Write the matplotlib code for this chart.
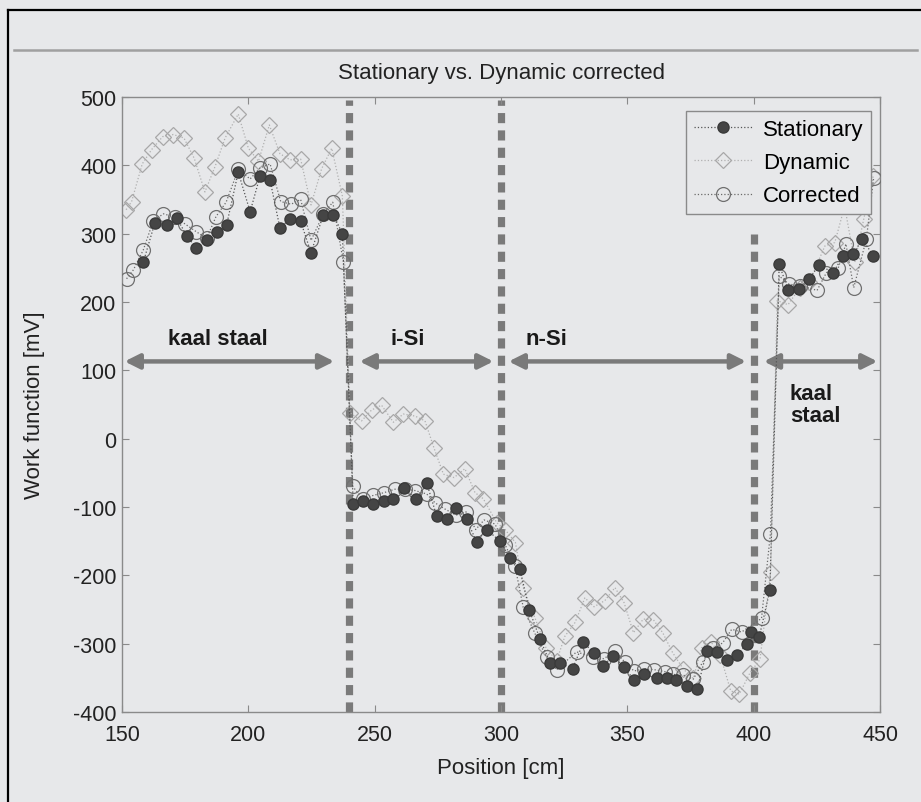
"""Stationary vs. dynamic (corrected) work function scan across the
kaal staal / i-Si / n-Si / kaal staal strip.

Output: out.png (921 x 803 px)
"""
import matplotlib
matplotlib.use("Agg")
import matplotlib.pyplot as plt
from matplotlib.lines import Line2D

matplotlib.rcParams.update({
    "font.family": ["Liberation Sans", "DejaVu Sans"],
    "font.size": 15,
    "axes.unicode_minus": False,
})

BG = "#e7e8ea"

# ── data ──────────────────────────────────────────────────────
stat_x = [158.4, 163.0, 167.7, 171.6, 175.6, 179.3, 183.5, 187.5, 191.4, 196.0,
          200.7, 204.6, 208.6, 212.5, 216.5, 220.7, 224.8, 229.7, 233.6, 237.2,
          241.5, 245.5, 249.5, 253.7, 257.4, 261.6, 266.2, 270.6, 274.5, 278.5,
          282.2, 286.4, 290.3, 294.3, 299.6, 303.5, 307.5, 311.2, 315.4, 319.4,
          323.3, 328.3, 332.6, 336.8, 340.5, 344.4, 348.7, 352.6, 356.7, 361.6,
          365.5, 369.2, 373.5, 377.7, 381.4, 385.3, 389.3, 393.3, 397.5, 398.8,
          402.2, 406.4, 410.1, 413.6, 418.0, 422.0, 425.9, 431.5, 435.4, 439.4,
          443.0, 447.3]
stat_y = [258, 316, 313, 323, 297, 279, 290, 302, 313, 390,
          332, 384, 378, 308, 322, 318, 272, 328, 328, 300,
          -96, -91, -96, -91, -89, -72, -88, -65, -113, -118,
          -102, -118, -151, -133, -150, -174, -191, -251, -293, -328,
          -328, -337, -298, -314, -332, -318, -334, -353, -345, -351,
          -351, -353, -362, -366, -311, -312, -324, -317, -300, -283,
          -290, -222, 255, 218, 219, 234, 254, 243, 268, 270,
          292, 268]

dyn_x = [151.6, 153.8, 158.0, 161.7, 166.1, 170.3, 174.5, 178.6, 182.8, 186.8,
         190.8, 196.0, 200.0, 204.0, 208.3, 212.5, 216.5, 220.7, 224.8, 229.0,
         233.0, 237.2, 240.2, 244.8, 248.8, 252.7, 257.4, 261.3, 266.0, 269.9,
         273.5, 277.2, 281.4, 285.7, 289.7, 293.0, 298.3, 301.6, 305.7, 308.8,
         313.4, 317.8, 322.0, 325.3, 329.3, 333.2, 336.8, 341.1, 345.1, 348.7,
         352.4, 356.3, 360.3, 364.0, 367.9, 372.1, 376.1, 379.4, 383.0, 386.7,
         390.9, 394.3, 398.5, 402.5, 406.7, 409.3, 413.6, 418.3, 422.0, 428.2,
         432.1, 436.0, 440.0, 443.6, 447.3]
dyn_y = [335, 347, 402, 423, 442, 445, 440, 410, 361, 398,
         440, 475, 425, 406, 459, 417, 408, 409, 342, 395,
         425, 355, 38, 26, 42, 49, 24, 36, 33, 26,
         -14, -52, -57, -44, -79, -88, -123, -133, -152, -218,
         -262, -306, -325, -289, -269, -233, -246, -237, -218, -240,
         -284, -264, -265, -284, -313, -337, -351, -306, -297, -316,
         -369, -374, -343, -323, -195, 202, 196, 221, 229, 282,
         287, 340, 258, 322, 384]

corr_x = [151.8, 154.5, 158.4, 162.4, 166.4, 171.0, 175.0, 179.3, 183.5, 187.2,
          191.2, 196.0, 200.7, 204.6, 208.6, 212.8, 216.9, 220.7, 224.8, 229.7,
          233.4, 237.6, 241.3, 245.2, 249.5, 253.7, 258.0, 262.0, 266.0, 270.6,
          273.9, 277.8, 282.2, 286.1, 290.0, 293.3, 297.6, 301.6, 305.5, 308.8,
          313.4, 318.0, 322.0, 329.9, 336.5, 340.7, 345.1, 349.0, 352.6, 356.6,
          360.5, 364.9, 368.2, 372.1, 376.1, 379.8, 383.8, 387.7, 391.3, 395.2,
          403.1, 406.6, 410.1, 414.0, 418.3, 425.1, 428.8, 433.4, 436.5, 439.6,
          444.6, 447.5]
corr_y = [234, 247, 276, 319, 329, 324, 314, 303, 293, 325,
          346, 394, 380, 396, 402, 347, 343, 350, 290, 329,
          346, 259, -70, -88, -83, -79, -74, -74, -76, -81,
          -94, -103, -112, -107, -133, -119, -125, -155, -186, -247,
          -285, -320, -338, -312, -320, -322, -311, -327, -340, -337,
          -338, -341, -345, -346, -352, -327, -307, -299, -279, -283,
          -263, -140, 238, 226, 224, 217, 243, 249, 285, 221,
          292, 382]

boundaries = [240, 300, 400]
boundary_tops = [495, 495, 300]

regions = ["kaal staal", "i-Si", "n-Si"]
region_x = [188, 263, 318]
arrow_spans = [(151, 234), (244, 297), (303, 397), (404, 449)]


def main():
    fig = plt.figure(figsize=(9.21, 8.03), dpi=100, facecolor=BG)
    ax = fig.add_axes([0.1325, 0.1121, 0.823, 0.7659])
    ax.set_facecolor(BG)

    # outer frame and separator
    fig.add_artist(Line2D([0.009, 0.009], [0.0, 0.986], color="black",
                          lw=1.6, transform=fig.transFigure))
    fig.add_artist(Line2D([0.009, 1.0], [0.986, 0.986], color="black",
                          lw=1.6, transform=fig.transFigure))
    fig.add_artist(Line2D([0.015, 0.996], [0.937, 0.937], color="#a0a0a0",
                          lw=1.8, transform=fig.transFigure))

    # region boundaries
    for bx, top in zip(boundaries, boundary_tops):
        ax.plot([bx, bx], [-400, top], color="#7a7a7a", lw=5.2,
                ls=(0, (1.4, 1.0)), solid_capstyle="butt",
                dash_capstyle="butt", zorder=1)

    ax.plot(stat_x, stat_y, ls=":", lw=0.9, color="#555555", marker="o",
            ms=8, mfc="#454545", mec="#3a3a3a", label="Stationary", zorder=4)
    ax.plot(dyn_x, dyn_y, ls=":", lw=0.9, color="#b0b0b0", marker="D",
            ms=8, mfc="none", mec="#a8a8a8", mew=0.9, label="Dynamic",
            zorder=2)
    ax.plot(corr_x, corr_y, ls=":", lw=0.9, color="#6a6a6a", marker="o",
            ms=10, mfc="none", mec="#707070", mew=0.9, label="Corrected",
            zorder=3)

    # double arrows and region names
    for x0, x1 in arrow_spans:
        ax.annotate("", xy=(x1, 113), xytext=(x0, 113),
                    arrowprops=dict(arrowstyle="<|-|>", color="#7a7a7a",
                                    lw=3.2, mutation_scale=22,
                                    shrinkA=0, shrinkB=0))
    for name, tx in zip(regions, region_x):
        ax.text(tx, 146, name, ha="center", va="center", fontsize=16,
                fontweight="bold", color="#1a1a1a")
    ax.text(414.3, 50, "kaal\nstaal", ha="left", va="center", fontsize=16,
            fontweight="bold", color="#1a1a1a", linespacing=1.1,
            multialignment="left")

    ax.set_xlim(150, 450)
    ax.set_ylim(-400, 500)
    ax.set_xticks([150, 200, 250, 300, 350, 400, 450])
    ax.set_yticks(range(-400, 501, 100))
    ax.tick_params(direction="in", length=5, color="#8a8a8a",
                   labelcolor="#222222", labelsize=15.5, top=True, right=True,
                   pad=4)
    ax.tick_params(axis="x", pad=9)
    for sp in ax.spines.values():
        sp.set_color("#8a8a8a")
        sp.set_linewidth(1.0)

    ax.set_xlabel("Position [cm]", fontsize=16, color="#222222", labelpad=8)
    ax.set_ylabel("Work function [mV]", fontsize=16, color="#222222",
                  labelpad=20)
    ax.set_title("Stationary vs. Dynamic corrected", fontsize=16,
                 color="#222222", pad=14)

    leg = ax.legend(loc="upper right", bbox_to_anchor=(0.988, 0.977),
                    borderaxespad=0, fontsize=16, handlelength=2.6,
                    handletextpad=0.5, facecolor=BG, edgecolor="#8a8a8a",
                    framealpha=1, fancybox=False, labelspacing=0.55,
                    borderpad=0.35)
    leg.get_frame().set_linewidth(1.0)

    fig.savefig("out.png", dpi=100, facecolor=BG)
    plt.close(fig)


if __name__ == "__main__":
    main()
